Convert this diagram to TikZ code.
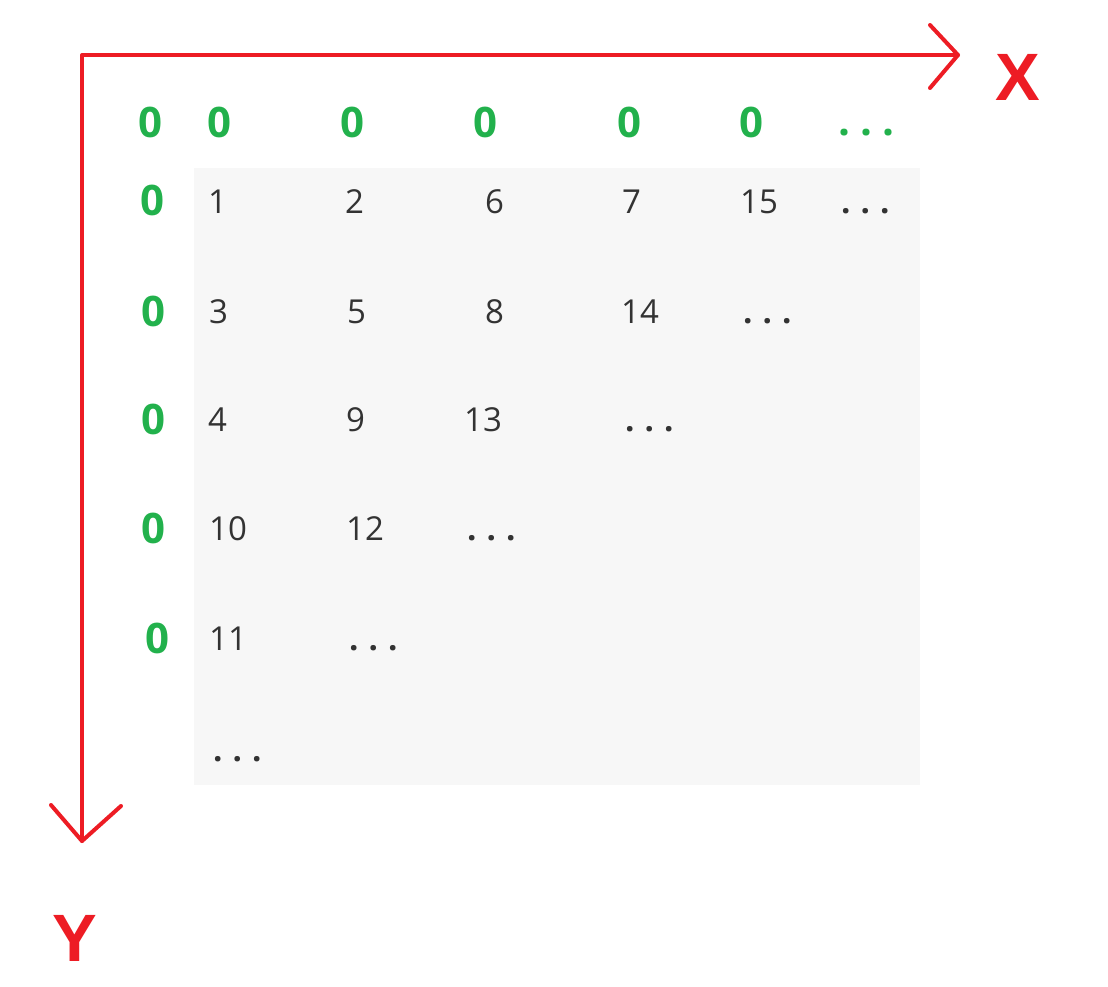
\documentclass[tikz,border=0pt]{standalone}
\usepackage{fontspec}
\setmainfont{Open Sans}
\newfontfamily\axisfont{Liberation Sans}
\definecolor{axred}{HTML}{ED1C24}
\definecolor{zgreen}{HTML}{22B14C}
\definecolor{numgray}{HTML}{333333}
\definecolor{panel}{HTML}{F7F7F7}
\newcommand{\bdots}{{\bfseries .\kern10pt.\kern10pt.}}
\newcommand{\gdots}{.\kern10pt.\kern10pt.}
\begin{document}
\begin{tikzpicture}[x=1pt,y=-1pt,
  num/.style={inner sep=0pt,anchor=base west,text=numgray,font=\fontsize{33}{36}\selectfont},
  zero/.style={inner sep=0pt,anchor=base,text=zgreen,font=\fontsize{42}{46}\selectfont\bfseries},
  axis/.style={draw=axred,line width=4pt,line cap=round,line join=round},
  axlabel/.style={inner sep=0pt,text=axred,font=\fontsize{67}{70}\selectfont\axisfont\bfseries}]
\useasboundingbox (0,0) rectangle (1108,986);
\fill[panel] (194,168) rectangle (920,785);
% axes
\coordinate (O) at (82,55);
\coordinate (xend) at (958,55);
\coordinate (yend) at (82,841);
\coordinate (xa1) at (930,25);
\coordinate (xa2) at (930,88);
\coordinate (ya1) at (51,805);
\coordinate (ya2) at (121,806);
\draw[axis] (yend) -- (O) -- (xend);
\draw[axis] (xa1) -- (xend) -- (xa2);
\draw[axis] (ya1) -- (yend) -- (ya2);
\node[axlabel] (X) at (1018,77) {X};
\node[axlabel] (Y) at (75,938) {Y};
% green zeros top
\node[zero] (z0) at (150,137) {0};
\node[zero] (zt1) at (219,137) {0};
\node[zero] (zt2) at (352,137) {0};
\node[zero] (zt3) at (485,137) {0};
\node[zero] (zt4) at (629,137) {0};
\node[zero] (zt5) at (751,137) {0};
\node[zero,anchor=base west] (ztd) at (838,135) {\gdots};
% green zeros left
\node[zero] (zl1) at (152,215) {0};
\node[zero] (zl2) at (153,326) {0};
\node[zero] (zl3) at (153,434) {0};
\node[zero] (zl4) at (153,543) {0};
\node[zero] (zl5) at (157,653) {0};
% row 1
\node[num] (a1) at (208,213.5) {1};
\node[num] (a2) at (345,213.5) {2};
\node[num] (a3) at (485,213.5) {6};
\node[num] (a4) at (622,213.5) {7};
\node[num] (a5) at (740,213.5) {15};
\node[num] (a6) at (841,213.5) {\bdots};
% row 2
\node[num] (b1) at (209,323.5) {3};
\node[num] (b2) at (347,323.5) {5};
\node[num] (b3) at (485,323.5) {8};
\node[num] (b4) at (621,323.5) {14};
\node[num] (b5) at (743,323.5) {\bdots};
% row 3
\node[num] (c1) at (208,431.5) {4};
\node[num] (c2) at (346,431.5) {9};
\node[num] (c3) at (464,431.5) {13};
\node[num] (c4) at (625,431.5) {\bdots};
% row 4
\node[num] (d1) at (209,540.5) {10};
\node[num] (d2) at (346,540.5) {12};
\node[num] (d3) at (467,540.5) {\bdots};
% row 5
\node[num] (e1) at (209,650.5) {11};
\node[num] (e2) at (349,650.5) {\bdots};
% row 6
\node[num] (f1) at (213,761) {\bdots};
\end{tikzpicture}
\end{document}
